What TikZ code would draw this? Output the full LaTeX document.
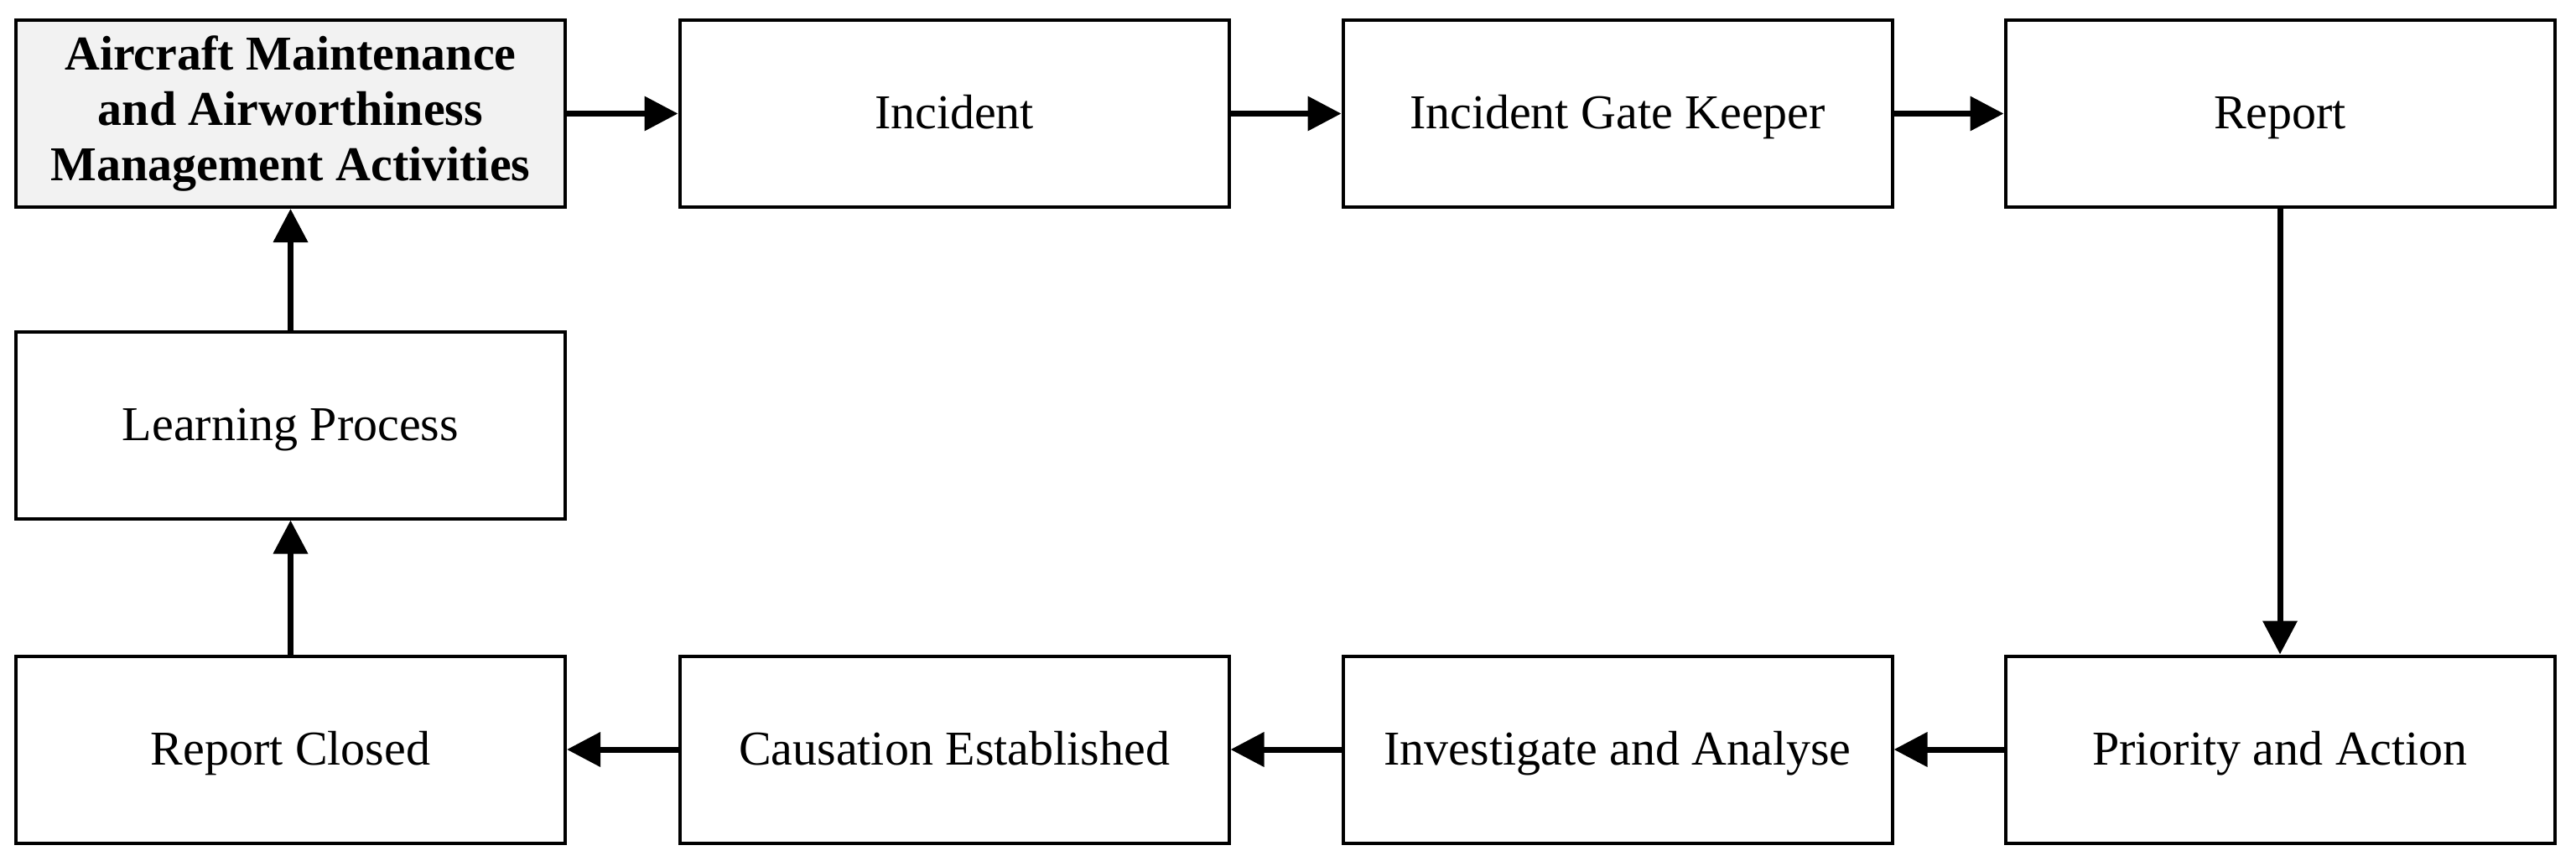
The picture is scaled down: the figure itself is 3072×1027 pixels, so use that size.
\documentclass[tikz,border=0pt]{standalone}
\usepackage{fontspec}
\setmainfont{Liberation Serif}
\usetikzlibrary{arrows.meta}
\definecolor{boxgray}{HTML}{F2F2F2}
\tikzset{
  basebox/.style={draw=black, line width=1pt, fill=white, minimum width=163.75pt, minimum height=55.75pt, inner sep=0pt, align=center, font=\fontsize{14.5}{16.5}\selectfont},
  stepbox/.style={basebox, text height=10.5pt, text depth=1.25pt},
  conn/.style={line width=1.75pt, -{Triangle[length=10pt,width=10pt]}}
}
\begin{document}
\begin{tikzpicture}[x=0.25pt,y=-0.25pt]
\useasboundingbox (0,0) rectangle (3072,1027);
\node[basebox, fill=boxgray, font=\fontsize{14.5}{16.5}\selectfont\bfseries] (amm) at (346.5,135.5) {Aircraft Maintenance\\and Airworthiness\\Management Activities};
\node[stepbox] (inc) at (1138,135.5) {Incident};
\node[stepbox] (igk) at (1929,135.5) {Incident Gate Keeper};
\node[stepbox] (rep) at (2719,135.5) {Report};
\node[stepbox] (lp) at (346.5,507) {Learning Process};
\node[stepbox] (rc) at (346.5,894) {Report Closed};
\node[stepbox] (ce) at (1138,894) {Causation Established};
\node[stepbox] (ia) at (1929,894) {Investigate and Analyse};
\node[stepbox] (pa) at (2719,894) {Priority and Action};
\draw[conn] (amm) -- (inc);
\draw[conn] (inc) -- (igk);
\draw[conn] (igk) -- (rep);
\draw[conn] (rep) -- (pa);
\draw[conn] (pa) -- (ia);
\draw[conn] (ia) -- (ce);
\draw[conn] (ce) -- (rc);
\draw[conn] (rc) -- (lp);
\draw[conn] (lp) -- (amm);
\end{tikzpicture}
\end{document}
